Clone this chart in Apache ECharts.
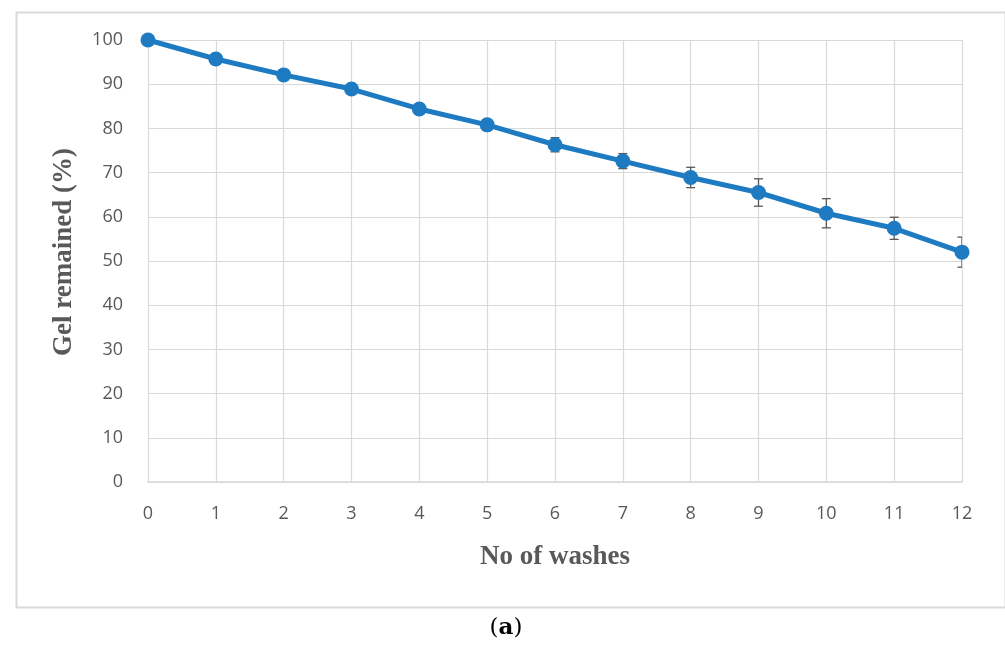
<!DOCTYPE html>
<html>
<head>
<meta charset="utf-8">
<script src="https://cdn.jsdelivr.net/npm/echarts@6/dist/echarts.min.js"></script>
<style>
html,body{margin:0;padding:0;background:#fff;}
#chart{width:1005px;height:648px;}
</style>
</head>
<body>
<div id="chart"></div>
<script>
var washes = [0, 1, 2, 3, 4, 5, 6, 7, 8, 9, 10, 11, 12];
var gelRemained = [100, 95.7, 92.1, 88.9, 84.4, 80.8, 76.3, 72.6, 68.9, 65.5, 60.8, 57.4, 52.0];
var errors = [0.4, 0.5, 0.6, 0.6, 0.9, 1.2, 1.6, 1.7, 2.3, 3.1, 3.3, 2.5, 3.4];
var xTitle = 'No of washes';
var yTitle = 'Gel remained (%)';

var lineData = washes.map(function (w, i) { return [w, gelRemained[i]]; });
var errData = washes.map(function (w, i) { return [w, gelRemained[i] - errors[i], gelRemained[i] + errors[i]]; });

var chart = echarts.init(document.getElementById('chart'), null, {renderer: 'canvas'});
var labelColor = '#595959';
chart.setOption({
  animation: false,
  backgroundColor: '#ffffff',
  graphic: [
    {type: 'rect', left: 14, top: 10, shape: {width: 989, height: 595},
     style: {fill: 'none', stroke: '#d9d9d9', lineWidth: 2}, z: -10},
    {type: 'text', x: 64, y: 252, rotation: Math.PI / 2,
     style: {text: yTitle, fontFamily: 'Liberation Serif', fontWeight: 'bold', fontSize: 27,
             fill: labelColor, align: 'center', verticalAlign: 'middle'}},
    {type: 'text', x: 506, y: 628,
     style: {
       text: '{n|(}{b|a}{n|)}',
       align: 'center', verticalAlign: 'middle',
       rich: {
         n: {fontFamily: 'DejaVu Serif', fontSize: 23, fill: '#000'},
         b: {fontFamily: 'DejaVu Serif', fontSize: 23, fontWeight: 'bold', fill: '#000'}
       }
     }}
  ],
  grid: {left: 148, right: 43, top: 40, bottom: 166},
  xAxis: {
    type: 'value', min: 0, max: 12, interval: 1,
    name: xTitle, nameLocation: 'middle', nameGap: 62,
    nameTextStyle: {fontFamily: 'Liberation Serif', fontWeight: 'bold', fontSize: 27, color: labelColor},
    axisLine: {show: true, lineStyle: {color: '#d9d9d9', width: 1.5}},
    axisTick: {show: false},
    axisLabel: {color: labelColor, fontFamily: 'Open Sans', fontSize: 18, margin: 23},
    splitLine: {show: true, lineStyle: {color: '#d9d9d9', width: 1.2}}
  },
  yAxis: {
    type: 'value', min: 0, max: 100, interval: 10,
    axisLine: {show: false},
    axisTick: {show: false},
    axisLabel: {color: labelColor, fontFamily: 'Open Sans', fontSize: 18, margin: 25},
    splitLine: {show: true, lineStyle: {color: '#d9d9d9', width: 1.2}}
  },
  series: [
    {
      type: 'custom',
      z: 1,
      clip: true,
      data: errData,
      renderItem: function (params, api) {
        var x = api.value(0);
        var lo = api.coord([x, api.value(1)]);
        var hi = api.coord([x, api.value(2)]);
        var cw = 4.5;
        var st = {stroke: '#595959', lineWidth: 1.3, fill: null};
        return {
          type: 'group',
          children: [
            {type: 'line', shape: {x1: hi[0], y1: hi[1], x2: lo[0], y2: lo[1]}, style: st},
            {type: 'line', shape: {x1: hi[0] - cw, y1: hi[1], x2: hi[0] + cw, y2: hi[1]}, style: st},
            {type: 'line', shape: {x1: lo[0] - cw, y1: lo[1], x2: lo[0] + cw, y2: lo[1]}, style: st}
          ]
        };
      }
    },
    {
      type: 'line',
      z: 2,
      data: lineData,
      symbol: 'circle',
      symbolSize: 15,
      lineStyle: {color: '#1f7bc1', width: 5},
      itemStyle: {color: '#1f7bc1'}
    }
  ]
});
</script>
</body>
</html>
